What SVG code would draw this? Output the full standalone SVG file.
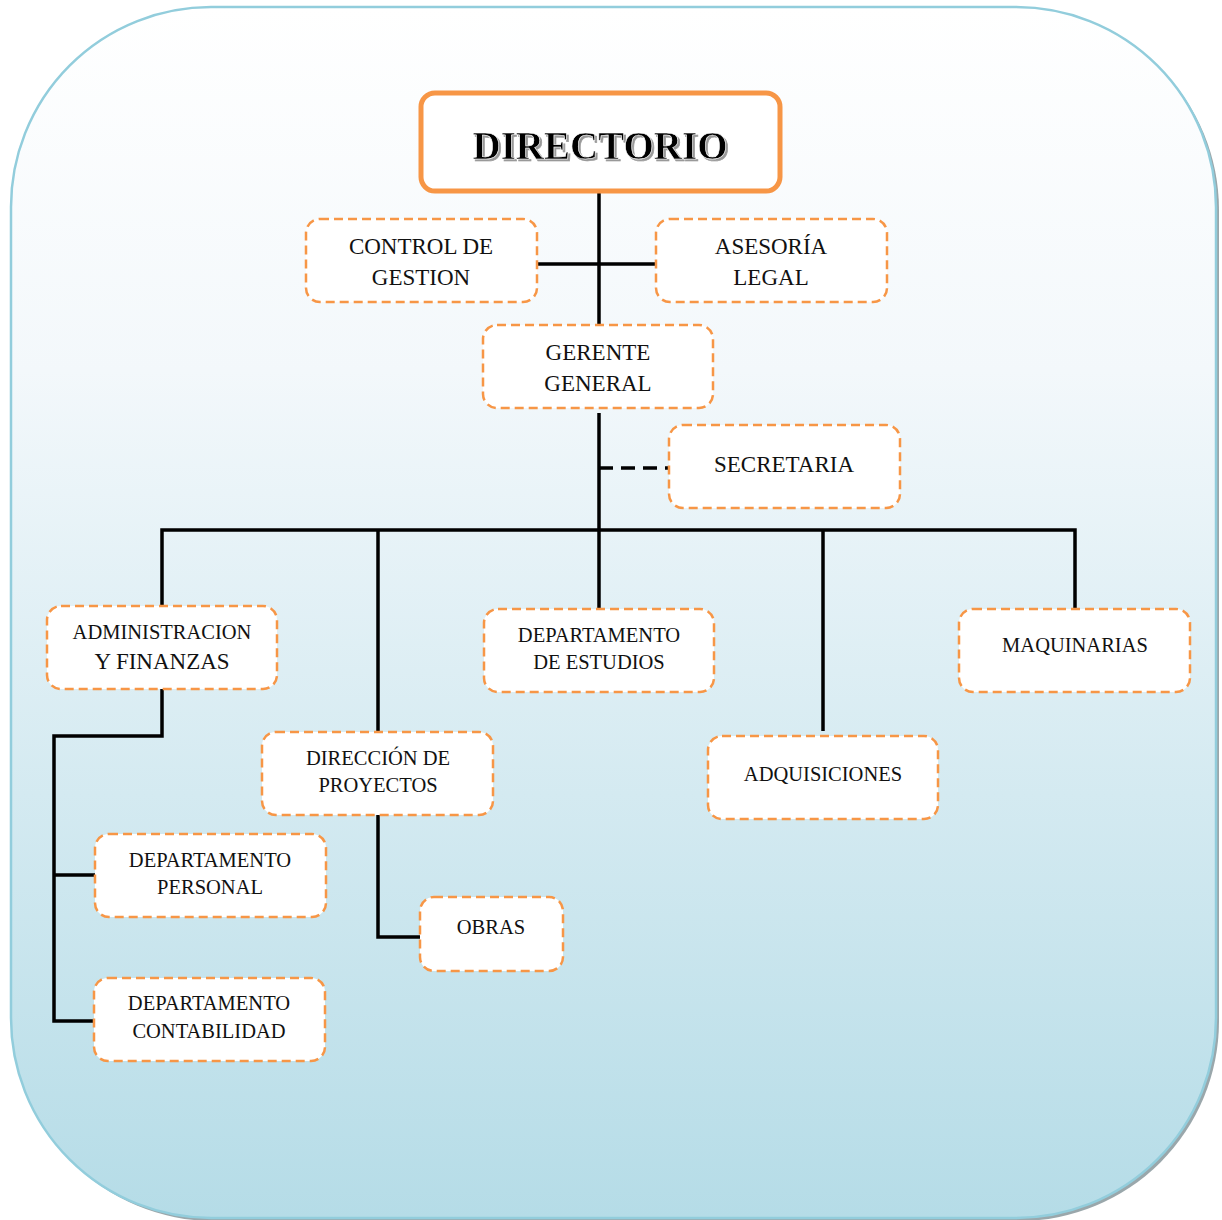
<svg xmlns="http://www.w3.org/2000/svg" width="1222" height="1220" viewBox="0 0 1222 1220">
<defs>
<linearGradient id="bg" x1="0" y1="0" x2="0" y2="1">
<stop offset="0" stop-color="#ffffff"/>
<stop offset="0.3" stop-color="#f3f8fb"/>
<stop offset="1" stop-color="#b5dce7"/>
</linearGradient>
<filter id="ts" x="-10%" y="-20%" width="120%" height="140%">
<feOffset dx="2" dy="2" in="SourceAlpha" result="o"/>
<feFlood flood-color="#999999"/>
<feComposite in2="o" operator="in" result="s"/>
<feMerge><feMergeNode in="s"/><feMergeNode in="SourceGraphic"/></feMerge>
</filter>
<style>
.box{fill:#ffffff;stroke:#f79646;stroke-width:2.5;stroke-dasharray:9 5}
.t{font-family:"Liberation Serif","Times New Roman",serif;font-size:23px;fill:#111;text-anchor:middle}
.s{font-size:20.5px}
.c{fill:none;stroke:#000;stroke-width:3.5}
</style>
</defs>
<rect x="14" y="10" width="1205" height="1211" rx="200" ry="200" fill="#9aa7ab"/>
<rect x="11" y="7" width="1205" height="1211" rx="200" ry="200" fill="url(#bg)" stroke="#92cddc" stroke-width="2.5"/>

<g id="connectors">
<line class="c" x1="599" y1="191" x2="599" y2="325"/>
<line class="c" x1="537" y1="264" x2="656" y2="264"/>
<line class="c" x1="599" y1="413" x2="599" y2="530"/>
<line class="c" x1="599" y1="468" x2="669" y2="468" stroke-dasharray="14 8"/>
<polyline class="c" points="162,606 162,530 1075,530 1075,609"/>
<line class="c" x1="378" y1="530" x2="378" y2="732"/>
<line class="c" x1="599" y1="530" x2="599" y2="609"/>
<line class="c" x1="823" y1="530" x2="823" y2="731"/>
<polyline class="c" points="162,689 162,736 54,736 54,1021 94,1021"/>
<line class="c" x1="54" y1="875" x2="95" y2="875"/>
<polyline class="c" points="378,815 378,937 420,937"/>
</g>

<g id="directorio">
<rect x="421" y="93" width="359" height="98" rx="14" ry="14" fill="#fff" stroke="#f79646" stroke-width="5"/>
<text x="600" y="159" filter="url(#ts)" style="font-family:'Liberation Serif',serif;font-size:39px;font-weight:bold;text-anchor:middle;fill:#000;stroke:#fff;stroke-width:0.6">DIRECTORIO</text>
</g>
<g id="control-gestion">
<rect class="box" x="306" y="219" width="231" height="83" rx="14"/>
<text class="t" x="421" y="254">CONTROL DE</text>
<text class="t" x="421" y="285">GESTION</text>
</g>
<g id="asesoria-legal">
<rect class="box" x="656" y="219" width="231" height="83" rx="14"/>
<text class="t" x="771" y="254">ASESORÍA</text>
<text class="t" x="771" y="285">LEGAL</text>
</g>
<g id="gerente-general">
<rect class="box" x="483" y="325" width="230" height="83" rx="14"/>
<text class="t" x="598" y="360">GERENTE</text>
<text class="t" x="598" y="391">GENERAL</text>
</g>
<g id="secretaria">
<rect class="box" x="669" y="425" width="231" height="83" rx="14"/>
<text class="t" x="784" y="472">SECRETARIA</text>
</g>
<g id="administracion">
<rect class="box" x="47" y="606" width="230" height="83" rx="14"/>
<text class="t s" x="162" y="639">ADMINISTRACION</text>
<text class="t" x="162" y="669">Y FINANZAS</text>
</g>
<g id="depto-estudios">
<rect class="box" x="484" y="609" width="230" height="83" rx="14"/>
<text class="t s" x="599" y="642">DEPARTAMENTO</text>
<text class="t s" x="599" y="669">DE ESTUDIOS</text>
</g>
<g id="maquinarias">
<rect class="box" x="959" y="609" width="231" height="83" rx="14"/>
<text class="t s" x="1075" y="652">MAQUINARIAS</text>
</g>
<g id="direccion-proyectos">
<rect class="box" x="262" y="732" width="231" height="83" rx="14"/>
<text class="t s" x="378" y="765">DIRECCIÓN DE</text>
<text class="t s" x="378" y="792">PROYECTOS</text>
</g>
<g id="adquisiciones">
<rect class="box" x="708" y="736" width="230" height="83" rx="14"/>
<text class="t s" x="823" y="781">ADQUISICIONES</text>
</g>
<g id="depto-personal">
<rect class="box" x="95" y="834" width="231" height="83" rx="14"/>
<text class="t s" x="210" y="867">DEPARTAMENTO</text>
<text class="t s" x="210" y="894">PERSONAL</text>
</g>
<g id="obras">
<rect class="box" x="420" y="897" width="143" height="74" rx="14"/>
<text class="t s" x="491" y="934">OBRAS</text>
</g>
<g id="depto-contabilidad">
<rect class="box" x="94" y="978" width="231" height="83" rx="14"/>
<text class="t s" x="209" y="1010">DEPARTAMENTO</text>
<text class="t s" x="209" y="1038">CONTABILIDAD</text>
</g>
</svg>
